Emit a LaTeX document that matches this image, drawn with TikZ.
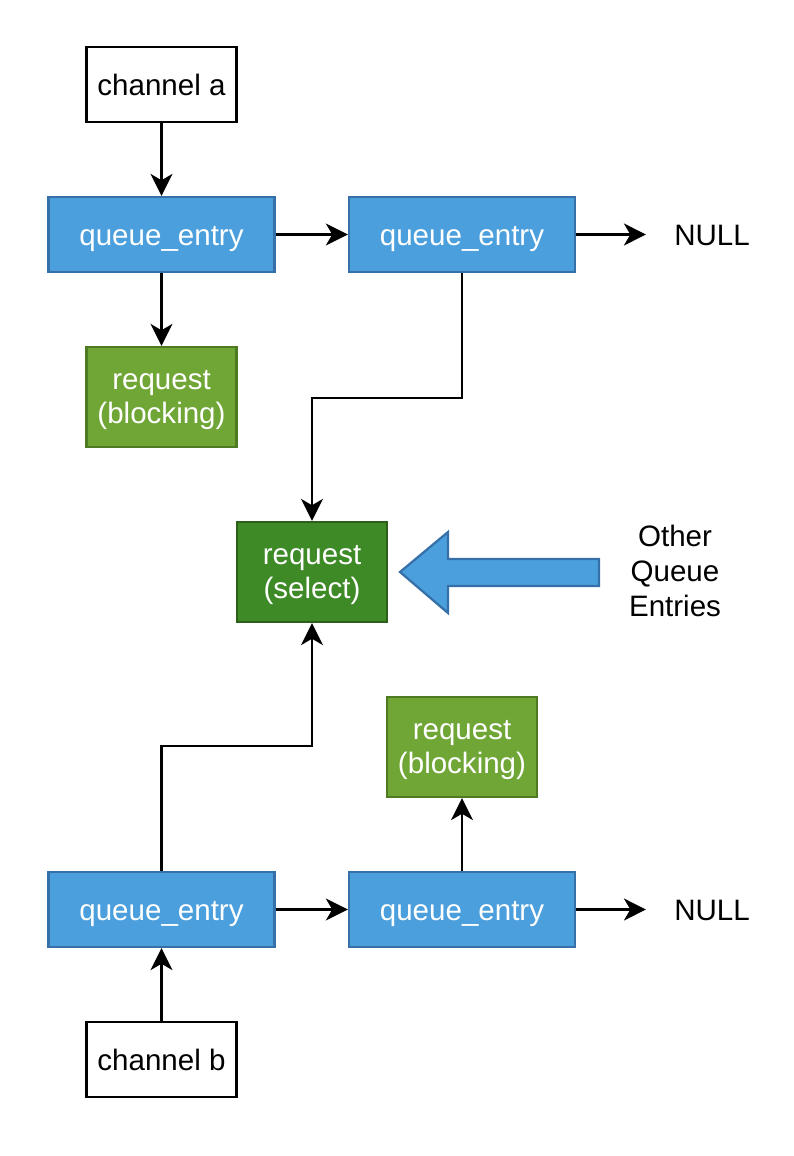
\documentclass[tikz,border=0pt]{standalone}
\usepackage{fontspec}
\setmainfont{Liberation Sans}
\usepackage{tikz}
\usetikzlibrary{arrows.meta}

\definecolor{qblue}{HTML}{4B9FDC}
\definecolor{qblueline}{HTML}{3670A8}
\definecolor{rgreen}{HTML}{6FA636}
\definecolor{rgreenline}{HTML}{4E7B22}
\definecolor{sgreen}{HTML}{3D8A26}
\definecolor{sgreenline}{HTML}{2B5F1A}

\begin{document}
\begin{tikzpicture}[x=0.025cm, y=-0.025cm, line width=1.6pt,
font=\fontsize{21}{24}\selectfont,
one_line/.style={text height=19.8pt,text depth=4.2pt},
channel_style/.style={rectangle,one_line,draw=black,fill=white,inner sep=0pt,minimum width=3.75cm,minimum height=1.875cm},
queue_style/.style={rectangle,one_line,draw=qblueline,fill=qblue,text=white,inner sep=0pt,minimum width=5.65cm,minimum height=1.875cm},
request_style/.style={rectangle,draw=rgreenline,fill=rgreen,text=white,align=center,text depth=0pt,inner sep=0pt,minimum width=3.75cm,minimum height=2.5cm},
select_style/.style={request_style,draw=sgreenline,fill=sgreen},
null_style/.style={one_line,inner ysep=2pt,inner xsep=0.68cm},
edge_style/.style={draw=black,line width=1.6pt,-{Stealth[length=5.5mm,width=5.5mm,inset=1.6mm]}},
big_arrow/.style={draw=qblueline,fill=qblue,line width=1.6pt,line join=miter}]
\useasboundingbox (0,0) rectangle (794,1156);

\node[channel_style] (cha) at (161.5,84.5) {channel a};
\node[queue_style] (qe1) at (161.5,234.5) {queue\_entry};
\node[queue_style] (qe2) at (462,234.5) {queue\_entry};
\node[null_style] (null1) at (712,234.5) {NULL};
\node[request_style] (reqb1) at (161.5,397) {request\\(blocking)};

\node[select_style] (sel) at (312,572) {request\\(select)};
\node[align=center,text depth=0pt,font=\fontsize{21}{25}\selectfont] (others) at (675,571) {Other\\Queue\\Entries};

\node[request_style] (reqb2) at (462,747) {request\\(blocking)};
\node[queue_style] (qe3) at (161.5,909.5) {queue\_entry};
\node[queue_style] (qe4) at (462,909.5) {queue\_entry};
\node[null_style] (null2) at (712,909.5) {NULL};
\node[channel_style] (chb) at (161.5,1059.5) {channel b};

% channel a list
\draw[edge_style] (cha.south) -- (qe1.north);
\draw[edge_style] (qe1.east) -- (qe2.west);
\draw[edge_style] (qe2.east) -- (null1.west);
\draw[edge_style] (qe1.south) -- (reqb1.north);
\draw[edge_style] (qe2.south) -- ++(0,125) -| (sel.north);

% channel b list
\draw[edge_style] (chb.north) -- (qe3.south);
\draw[edge_style] (qe3.east) -- (qe4.west);
\draw[edge_style] (qe4.east) -- (null2.west);
\draw[edge_style] (qe4.north) -- (reqb2.south);
\draw[edge_style] (qe3.north) -- ++(0,-125) -| (sel.south);

% other entries
\draw[big_arrow] (599,559) -- (448,559) -- (448,532) -- (400,572) -- (448,613) -- (448,586) -- (599,586) -- cycle;
\end{tikzpicture}
\end{document}
